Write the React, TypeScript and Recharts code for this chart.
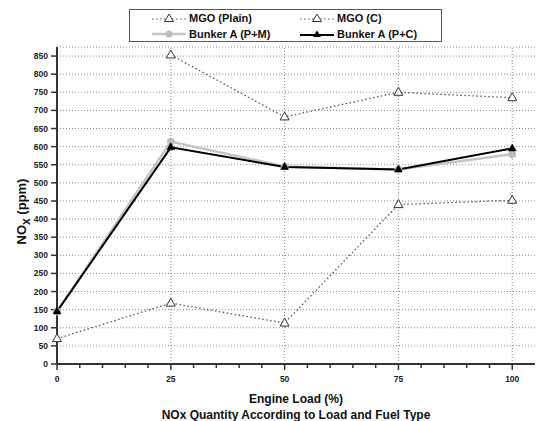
import React from "react";
import {
  LineChart, Line, XAxis, YAxis, CartesianGrid, ReferenceLine,
} from "recharts";

// engine load (%)
const loads = [0, 25, 50, 75, 100];
// NOx (ppm) per series
const mgoPlain = [70, 168, 113, 440, 452];
const mgoC = [null, 853, 682, 750, 735];
const bunkerPM = [145, 614, 545, 537, 579];
const bunkerPC = [145, 598, 544, 537, 595];

const yTicks = [0, 50, 100, 150, 200, 250, 300, 350, 400, 450, 500, 550, 600, 650, 700, 750, 800, 850];
const xTicks = [0, 5, 10, 15, 20, 25, 30, 35, 40, 45, 50, 55, 60, 65, 70, 75, 80, 85, 90, 95, 100];
const xGrid = [25, 50, 75, 100];

const data = loads.map((l, i) => ({
  load: l,
  plain: mgoPlain[i],
  c: mgoC[i],
  pm: bunkerPM[i],
  pc: bunkerPC[i],
}));

const FONT = "'Liberation Sans', Arial, sans-serif";

function HollowTri(props: any) {
  const { cx, cy, value } = props;
  if (value == null || cx == null) return null;
  return (
    <path
      d={`M${cx},${cy - 5} L${cx + 4.5},${cy + 3} L${cx - 4.5},${cy + 3} Z`}
      fill="#fff" stroke="#333" strokeWidth={1}
    />
  );
}

function SolidTri(props: any) {
  const { cx, cy, value } = props;
  if (value == null || cx == null) return null;
  return (
    <path
      d={`M${cx},${cy - 4.5} L${cx + 4},${cy + 2.5} L${cx - 4},${cy + 2.5} Z`}
      fill="#000" stroke="#000" strokeWidth={0.5}
    />
  );
}

function GrayDot(props: any) {
  const { cx, cy, value } = props;
  if (value == null || cx == null) return null;
  return <circle cx={cx} cy={cy} r={3.5} fill="#bdbdbd" stroke="#bdbdbd" />;
}

// x ticks: long ones with labels at 25 steps, short ones in between
function XTick(props: any) {
  const { x, y, payload } = props;
  const axisY = y - 8;
  const major = payload.value % 25 === 0;
  return (
    <g>
      <line x1={x} x2={x} y1={axisY} y2={axisY + (major ? 6 : 4)} stroke="#333" strokeWidth={1.5} />
      {major && (
        <text x={x} y={axisY + 18} textAnchor="middle" fontSize={8.5} fontWeight="bold" fill="#222" fontFamily={FONT}>
          {payload.value}
        </text>
      )}
    </g>
  );
}

function LegendRow({ kind }: { kind: string }) {
  if (kind === "tri") {
    return (
      <svg width={34} height={10}>
        <line x1={0} x2={34} y1={6} y2={6} stroke="#555" strokeDasharray="1.5 2.5" />
        <path d="M17,1 L21.5,8.5 L12.5,8.5 Z" fill="#fff" stroke="#333" />
      </svg>
    );
  }
  if (kind === "gray") {
    return (
      <svg width={34} height={10}>
        <line x1={0} x2={34} y1={5} y2={5} stroke="#c4c4c4" strokeWidth={2.5} />
        <circle cx={17} cy={5} r={3.5} fill="#bdbdbd" />
      </svg>
    );
  }
  return (
    <svg width={34} height={10}>
      <line x1={0} x2={34} y1={6} y2={6} stroke="#000" strokeWidth={2} />
      <path d="M17,1.5 L21,8 L13,8 Z" fill="#000" />
    </svg>
  );
}

const legendItems = [
  { name: "MGO (Plain)", kind: "tri" },
  { name: "MGO (C)", kind: "tri" },
  { name: "Bunker A (P+M)", kind: "gray" },
  { name: "Bunker A (P+C)", kind: "black" },
];

export default function App() {
  return (
    <div style={{ position: "absolute", left: 0, top: 0, width: 537, height: 421, background: "#fff", fontFamily: FONT }}>
      <LineChart
        width={537}
        height={421}
        data={data}
        margin={{ top: 47, right: 2, bottom: 37, left: 7 }}
      >
        <CartesianGrid vertical={false} stroke="#888" strokeDasharray="1 2" />
        {xGrid.map((v) => (
          <ReferenceLine key={v} x={v} stroke="#888" strokeDasharray="1 2" />
        ))}
        <XAxis
          dataKey="load"
          type="number"
          domain={[0, 105]}
          ticks={xTicks}
          interval={0}
          height={20}
          tickLine={false}
          tickSize={4}
          tickMargin={4}
          tick={<XTick />}
          axisLine={{ stroke: "#333", strokeWidth: 2 }}
          label={{
            content: (p: any) => {
              const vb = p.viewBox;
              const cx = vb.x + vb.width / 2;
              return (
                <g fontFamily={FONT} fontWeight="bold" fontSize={12} fill="#111">
                  <text x={cx} y={vb.y + 39} textAnchor="middle">Engine Load (%)</text>
                  <text x={cx} y={vb.y + 55} textAnchor="middle">NOx Quantity According to Load and Fuel Type</text>
                </g>
              );
            },
          }}
        />
        <XAxis xAxisId="top" orientation="top" dataKey="load" type="number" domain={[0, 105]} height={0} tick={false} tickLine={false} axisLine={{ stroke: "#000", strokeWidth: 1.5 }} />
        <YAxis
          type="number"
          domain={[0, 875]}
          ticks={yTicks}
          interval={0}
          width={50}
          tickSize={6}
          tickMargin={3}
          tickLine={{ stroke: "#333", strokeWidth: 1.5 }}
          axisLine={{ stroke: "#333", strokeWidth: 2 }}
          tick={{ fontSize: 8.5, fontWeight: "bold", fill: "#222", fontFamily: FONT }}
          label={{
            content: (p: any) => {
              const vb = p.viewBox;
              const cy = vb.y + vb.height / 2 + 6;
              const cx = 26;
              return (
                <text
                  x={cx}
                  y={cy}
                  transform={`rotate(-90, ${cx}, ${cy})`}
                  textAnchor="middle"
                  fontFamily={FONT}
                  fontWeight="bold"
                  fontSize={13}
                  fill="#111"
                >
                  NO<tspan dy={4} fontSize={12}>x</tspan><tspan dy={-4}> (ppm)</tspan>
                </text>
              );
            },
          }}
        />
        <YAxis yAxisId="right" orientation="right" domain={[0, 875]} width={0} tick={false} tickLine={false} axisLine={{ stroke: "#000", strokeWidth: 1.5 }} />
        <Line dataKey="plain" stroke="#555" strokeWidth={1.3} strokeDasharray="1.5 2.5" dot={<HollowTri />} isAnimationActive={false} />
        <Line dataKey="c" stroke="#555" strokeWidth={1.3} strokeDasharray="1.5 2.5" dot={<HollowTri />} isAnimationActive={false} />
        <Line dataKey="pm" stroke="#c4c4c4" strokeWidth={2.5} dot={<GrayDot />} isAnimationActive={false} />
        <Line dataKey="pc" stroke="#000" strokeWidth={2} dot={<SolidTri />} isAnimationActive={false} />
      </LineChart>
      <div
        style={{
          position: "absolute",
          left: 129,
          top: 9,
          width: 313,
          height: 33,
          border: "1px solid #555",
          background: "#fff",
          display: "grid",
          gridTemplateColumns: "148px 160px",
          gridTemplateRows: "16px 16px",
          paddingLeft: 22,
          boxSizing: "border-box",
          alignContent: "center",
          fontSize: 11,
          fontWeight: "bold",
          color: "#111",
        }}
      >
        {legendItems.map((it) => (
          <div key={it.name} style={{ display: "flex", alignItems: "center", gap: 3, whiteSpace: "nowrap" }}>
            <LegendRow kind={it.kind} />
            <span>{it.name}</span>
          </div>
        ))}
      </div>
    </div>
  );
}
